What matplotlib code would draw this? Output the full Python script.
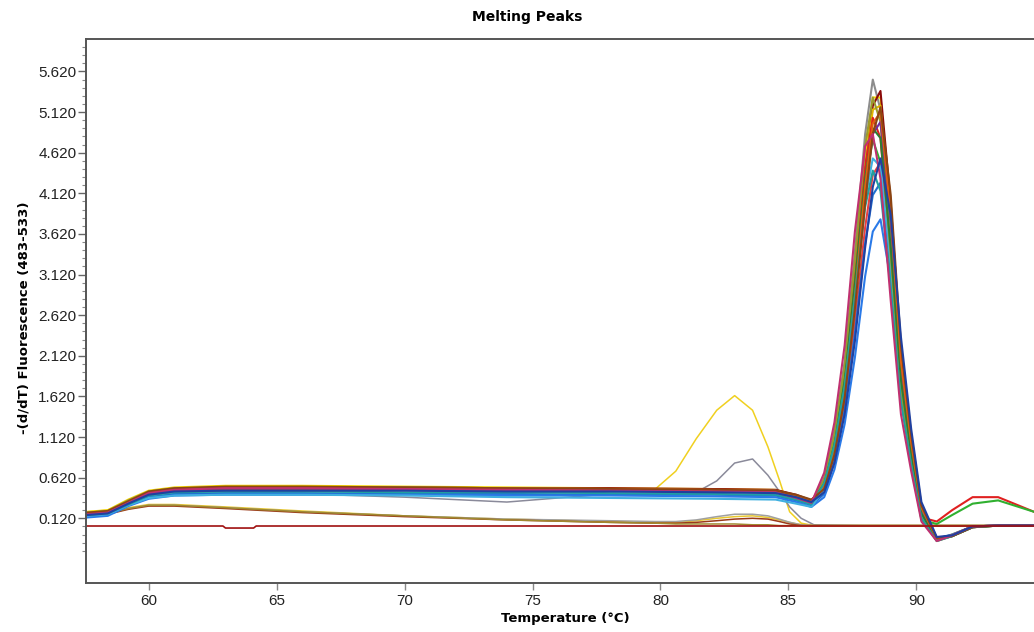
import numpy as np
import matplotlib.pyplot as plt
from matplotlib.ticker import FixedLocator, FormatStrFormatter

# temperature grid shared by the samples that show the main product peak
temp_main = [57.6, 58.4, 59.2, 60.0, 61.0, 63.0, 66.0, 70.0, 74.0, 78.0,
             82.0, 84.5, 85.3, 85.9, 86.4, 86.8, 87.2, 87.6, 88.0, 88.3,
             88.6, 89.0, 89.4, 89.8, 90.2, 90.8, 91.4, 92.2, 93.2, 94.6]

main_colors = ['#8c8c8c', '#f2d200', '#8b0a0a', '#e0b800', '#e02020', '#30b030',
               '#e84040', '#1f6fd0', '#2a7ae8', '#40b0e0', '#9a9a30', '#7030a0',
               '#2e7d32', '#e06010', '#20a0a0', '#8b4513', '#c03070', '#2040a0']

main_values = [
    [0.17, 0.19, 0.32, 0.44, 0.49, 0.51, 0.51, 0.50, 0.49, 0.48, 0.47, 0.46, 0.38, 0.31, 0.62,
     1.20, 2.05, 3.40, 4.85, 5.52, 5.15, 3.40, 1.70, 0.85, 0.12, -0.15, -0.08, 0.02, 0.03, 0.03],
    [0.20, 0.22, 0.35, 0.46, 0.50, 0.52, 0.52, 0.51, 0.50, 0.49, 0.48, 0.47, 0.40, 0.33, 0.55,
     1.05, 1.85, 3.10, 4.55, 5.30, 5.30, 3.75, 1.95, 1.00, 0.20, -0.14, -0.09, 0.02, 0.03, 0.03],
    [0.18, 0.20, 0.31, 0.43, 0.48, 0.50, 0.50, 0.50, 0.49, 0.49, 0.48, 0.47, 0.41, 0.34, 0.50,
     0.95, 1.70, 2.90, 4.35, 5.20, 5.38, 4.00, 2.15, 1.10, 0.25, -0.13, -0.10, 0.01, 0.03, 0.03],
    [0.19, 0.21, 0.33, 0.45, 0.49, 0.50, 0.50, 0.49, 0.48, 0.47, 0.46, 0.45, 0.39, 0.33, 0.54,
     1.02, 1.80, 3.00, 4.40, 5.15, 5.20, 3.70, 1.95, 0.98, 0.20, -0.14, -0.08, 0.02, 0.03, 0.03],
    [0.16, 0.18, 0.30, 0.42, 0.47, 0.49, 0.49, 0.48, 0.48, 0.47, 0.46, 0.45, 0.38, 0.32, 0.58,
     1.10, 1.90, 3.15, 4.45, 5.05, 4.80, 3.30, 1.70, 0.85, 0.13, 0.08, 0.22, 0.38, 0.38, 0.20],
    [0.17, 0.19, 0.31, 0.43, 0.47, 0.48, 0.48, 0.48, 0.47, 0.46, 0.45, 0.44, 0.37, 0.31, 0.57,
     1.08, 1.85, 3.00, 4.25, 4.78, 4.50, 3.10, 1.60, 0.80, 0.10, 0.05, 0.16, 0.30, 0.34, 0.20],
    [0.15, 0.17, 0.29, 0.41, 0.46, 0.47, 0.47, 0.47, 0.46, 0.46, 0.45, 0.44, 0.38, 0.32, 0.48,
     0.90, 1.55, 2.55, 3.70, 4.35, 4.50, 3.40, 1.85, 0.95, 0.22, -0.13, -0.09, 0.02, 0.03, 0.03],
    [0.14, 0.16, 0.28, 0.38, 0.42, 0.43, 0.43, 0.42, 0.42, 0.41, 0.41, 0.40, 0.34, 0.28, 0.42,
     0.82, 1.45, 2.40, 3.50, 4.10, 4.25, 3.25, 1.80, 0.92, 0.20, -0.14, -0.09, 0.02, 0.03, 0.03],
    [0.13, 0.15, 0.27, 0.36, 0.40, 0.41, 0.41, 0.41, 0.40, 0.40, 0.39, 0.38, 0.32, 0.26, 0.38,
     0.72, 1.28, 2.10, 3.10, 3.65, 3.80, 3.05, 1.75, 0.92, 0.22, -0.13, -0.08, 0.02, 0.03, 0.03],
    [0.15, 0.17, 0.28, 0.37, 0.40, 0.41, 0.41, 0.40, 0.38, 0.37, 0.36, 0.35, 0.30, 0.26, 0.48,
     0.95, 1.70, 2.80, 4.05, 4.55, 4.45, 3.25, 1.70, 0.85, 0.15, -0.15, -0.09, 0.02, 0.03, 0.03],
    [0.19, 0.21, 0.34, 0.45, 0.49, 0.50, 0.50, 0.50, 0.49, 0.48, 0.47, 0.46, 0.39, 0.32, 0.60,
     1.15, 2.00, 3.30, 4.70, 5.30, 5.00, 3.35, 1.70, 0.85, 0.12, -0.16, -0.10, 0.01, 0.03, 0.03],
    [0.17, 0.19, 0.31, 0.43, 0.48, 0.49, 0.49, 0.49, 0.48, 0.47, 0.46, 0.46, 0.40, 0.33, 0.50,
     0.95, 1.68, 2.80, 4.10, 4.85, 5.00, 3.75, 2.00, 1.02, 0.24, -0.13, -0.09, 0.02, 0.03, 0.03],
    [0.18, 0.20, 0.32, 0.44, 0.48, 0.49, 0.49, 0.49, 0.48, 0.47, 0.46, 0.45, 0.38, 0.32, 0.54,
     1.02, 1.80, 3.00, 4.30, 4.92, 4.80, 3.45, 1.82, 0.92, 0.18, -0.15, -0.10, 0.01, 0.03, 0.03],
    [0.18, 0.20, 0.32, 0.44, 0.48, 0.50, 0.50, 0.49, 0.49, 0.48, 0.47, 0.46, 0.40, 0.34, 0.51,
     0.97, 1.72, 2.85, 4.20, 4.98, 5.12, 3.85, 2.05, 1.05, 0.25, -0.13, -0.09, 0.02, 0.03, 0.03],
    [0.16, 0.18, 0.29, 0.40, 0.44, 0.45, 0.45, 0.44, 0.44, 0.43, 0.42, 0.41, 0.35, 0.29, 0.55,
     1.02, 1.75, 2.85, 3.95, 4.40, 4.15, 2.95, 1.55, 0.78, 0.12, -0.16, -0.10, 0.01, 0.03, 0.03],
    [0.19, 0.21, 0.33, 0.45, 0.49, 0.51, 0.51, 0.50, 0.49, 0.48, 0.47, 0.46, 0.41, 0.35, 0.48,
     0.90, 1.60, 2.70, 4.00, 4.85, 5.18, 4.10, 2.25, 1.15, 0.28, -0.12, -0.10, 0.01, 0.03, 0.03],
    [0.17, 0.19, 0.31, 0.43, 0.47, 0.49, 0.49, 0.48, 0.47, 0.46, 0.45, 0.44, 0.37, 0.31, 0.68,
     1.30, 2.25, 3.65, 4.70, 4.85, 4.30, 2.80, 1.40, 0.70, 0.08, -0.16, -0.09, 0.02, 0.03, 0.03],
    [0.16, 0.18, 0.30, 0.41, 0.45, 0.46, 0.46, 0.46, 0.45, 0.45, 0.44, 0.43, 0.38, 0.32, 0.44,
     0.80, 1.40, 2.30, 3.45, 4.20, 4.55, 3.85, 2.35, 1.22, 0.32, -0.11, -0.09, 0.02, 0.03, 0.03],
]

# samples without the main peak (primer-dimer / blanks)
temp_side = [57.6, 58.4, 59.2, 60.0, 61.0, 63.0, 66.0, 70.0, 74.0, 78.0,
             79.8, 80.6, 81.4, 82.2, 82.9, 83.6, 84.2, 84.65, 85.05, 85.5,
             86.0, 88.0, 90.0, 92.0, 94.6]

side_colors = ['#f0d020', '#8a8a9a', '#e8c830', '#a0a0a0', '#9b3a1a', '#a08a30']

side_values = [
    [0.20, 0.22, 0.34, 0.45, 0.49, 0.50, 0.50, 0.49, 0.48, 0.47, 0.48, 0.70, 1.10, 1.45, 1.63,
     1.45, 1.00, 0.59, 0.20, 0.06, 0.03, 0.03, 0.03, 0.03, 0.03],
    [0.16, 0.18, 0.29, 0.38, 0.42, 0.43, 0.42, 0.38, 0.32, 0.42, 0.43, 0.43, 0.44, 0.58, 0.80,
     0.85, 0.65, 0.45, 0.26, 0.12, 0.04, 0.03, 0.03, 0.03, 0.03],
    [0.16, 0.18, 0.25, 0.29, 0.29, 0.26, 0.21, 0.15, 0.11, 0.08, 0.07, 0.07, 0.09, 0.12, 0.14,
     0.15, 0.13, 0.10, 0.07, 0.04, 0.03, 0.03, 0.03, 0.03, 0.03],
    [0.15, 0.17, 0.24, 0.28, 0.28, 0.25, 0.20, 0.15, 0.11, 0.09, 0.08, 0.08, 0.10, 0.14, 0.17,
     0.17, 0.15, 0.11, 0.07, 0.04, 0.03, 0.03, 0.03, 0.03, 0.03],
    [0.15, 0.17, 0.23, 0.27, 0.27, 0.24, 0.19, 0.14, 0.10, 0.07, 0.06, 0.06, 0.07, 0.09, 0.11,
     0.12, 0.11, 0.08, 0.05, 0.03, 0.03, 0.03, 0.03, 0.03, 0.03],
    [0.16, 0.18, 0.24, 0.28, 0.28, 0.25, 0.20, 0.15, 0.10, 0.07, 0.06, 0.05, 0.05, 0.05, 0.05,
     0.04, 0.04, 0.03, 0.03, 0.03, 0.03, 0.03, 0.03, 0.03, 0.03],
]

# flat no-template control
temp_flat = [57.6, 62.9, 63.0, 64.1, 64.2, 94.6]
flat_values = [0.025, 0.025, 0.0, 0.0, 0.025, 0.025]

major_ticks = [0.12, 0.62, 1.12, 1.62, 2.12, 2.62, 3.12, 3.62, 4.12, 4.62, 5.12, 5.62]
x_ticks = [60, 65, 70, 75, 80, 85, 90]

fig = plt.figure(figsize=(10.34, 6.32), dpi=100)
ax = fig.add_axes([0.0832, 0.0771, 0.9168, 0.8612])

for vals, c in zip(side_values, side_colors):
    ax.plot(temp_side, vals, color=c, lw=1.1)
for vals, c in zip(main_values, main_colors):
    ax.plot(temp_main, vals, color=c, lw=1.5)
ax.plot(temp_flat, flat_values, color='#a01010', lw=1.2)

ax.set_xlim(57.55, 94.6)
ax.set_ylim(-0.68, 6.02)

ax.set_xticks(x_ticks)
ax.yaxis.set_major_locator(FixedLocator(major_ticks))
ax.yaxis.set_minor_locator(FixedLocator(np.round(np.arange(-0.28, 5.95, 0.1), 2)))
ax.yaxis.set_major_formatter(FormatStrFormatter('%.3f'))

for lab in ax.get_xticklabels() + ax.get_yticklabels():
    lab.set_fontfamily('Liberation Sans')
    lab.set_fontsize(11)
    lab.set_color('#222222')

ax.tick_params(axis='y', which='major', length=6, width=1, color='#666666', pad=1)
ax.tick_params(axis='y', which='minor', length=3, width=0.8, color='#888888')
ax.tick_params(axis='x', which='major', length=5, width=1, color='#888888', pad=3)

for s in ['left', 'bottom', 'top']:
    ax.spines[s].set_color('#555555')
    ax.spines[s].set_linewidth(1.4)
ax.spines['right'].set_visible(False)

fig.text(0.51, 0.973, 'Melting Peaks', ha='center', va='center',
         fontsize=10, fontweight='bold', family='DejaVu Sans')
fig.text(0.547, 0.021, 'Temperature (°C)', ha='center', va='center',
         fontsize=9.5, fontweight='bold', family='DejaVu Sans')
fig.text(0.023, 0.497, '-(d/dT) Fluorescence (483-533)', ha='center', va='center',
         rotation=90, fontsize=9.5, fontweight='bold', family='DejaVu Sans')

fig.savefig('out.png', dpi=100)
